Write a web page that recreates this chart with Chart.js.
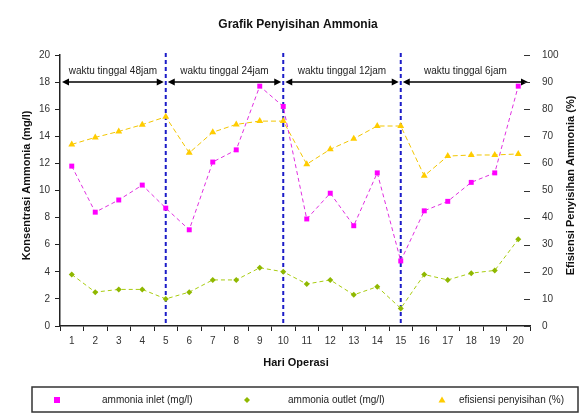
<!DOCTYPE html>
<html>
<head>
<meta charset="utf-8">
<script src="https://cdn.jsdelivr.net/npm/chart.js@4.4.1/dist/chart.umd.min.js"></script>
<style>
  html, body { margin: 0; padding: 0; background: #ffffff; }
  #wrap { width: 582px; height: 420px; position: relative; }
</style>
</head>
<body>
<div id="wrap"><canvas id="c" width="582" height="420"></canvas></div>
<script>
// ---- data ----
const days = ['1','2','3','4','5','6','7','8','9','10','11','12','13','14','15','16','17','18','19','20'];
const ammoniaInlet  = [11.8, 8.4, 9.3, 10.4, 8.7, 7.1, 12.1, 13.0, 17.7, 16.2, 7.9, 9.8, 7.4, 11.3, 4.8, 8.5, 9.2, 10.6, 11.3, 17.7];
const ammoniaOutlet = [3.8, 2.5, 2.7, 2.7, 2.0, 2.5, 3.4, 3.4, 4.3, 4.0, 3.1, 3.4, 2.3, 2.9, 1.3, 3.8, 3.4, 3.9, 4.1, 6.4];
const efficiency    = [67.0, 69.6, 71.8, 74.3, 77.2, 63.9, 71.5, 74.4, 75.6, 75.6, 59.7, 65.2, 69.1, 73.8, 73.8, 55.4, 62.7, 63.1, 63.1, 63.5];
const seriesNames   = ['ammonia inlet (mg/l)', 'ammonia outlet (mg/l)', 'efisiensi penyisihan (%)'];
const phaseLabels   = ['waktu tinggal 48jam', 'waktu tinggal 24jam', 'waktu tinggal 12jam', 'waktu tinggal 6jam'];
const phaseBounds   = ['5', '10', '15'];
const arrowLevel    = 18;
const leftTicks     = { min: 0, max: 20, step: 2 };
const rightTicks    = { min: 0, max: 100, step: 10 };

const titleText = 'Grafik Penyisihan Ammonia';
const xTitle = 'Hari Operasi';
const yTitle = 'Konsentrasi Ammonia (mg/l)';
const y1Title = 'Efisiensi Penyisihan Ammonia (%)';

const FONT = '"Liberation Sans", Arial, sans-serif';
const C_MAG = '#ff00ff', C_MAG_L = '#e030e0';
const C_GRN = '#8fb800', C_GRN_L = '#a8cc10';
const C_YEL = '#ffcc00', C_YEL_L = '#f2c600';

function drawMarker(ctx, type, x, y, color) {
  ctx.save();
  ctx.fillStyle = color;
  ctx.beginPath();
  if (type === 'rect') {
    ctx.rect(x - 3, y - 3, 6, 6);
  } else if (type === 'diamond') {
    ctx.moveTo(x, y - 3); ctx.lineTo(x + 3, y); ctx.lineTo(x, y + 3); ctx.lineTo(x - 3, y); ctx.closePath();
  } else {
    ctx.moveTo(x, y - 3.5); ctx.lineTo(x + 3.5, y + 2.5); ctx.lineTo(x - 3.5, y + 2.5); ctx.closePath();
  }
  ctx.fill();
  ctx.restore();
}

function drawArrowHead(ctx, x, y, dir) {
  ctx.beginPath();
  ctx.moveTo(x, y);
  ctx.lineTo(x - dir * 7, y - 3.5);
  ctx.lineTo(x - dir * 7, y + 3.5);
  ctx.closePath();
  ctx.fill();
}

const overlay = {
  id: 'overlay',
  beforeDatasetsDraw(chart) {
    const { ctx, chartArea: a, scales } = chart;
    const xs = scales.x, ys = scales.y;
    const bx = phaseBounds.map(b => xs.getPixelForValue(days.indexOf(b)));
    // vertical dashed blue lines
    ctx.save();
    ctx.strokeStyle = '#1c1cc8';
    ctx.lineWidth = 2;
    ctx.setLineDash([4, 3]);
    bx.forEach(x => {
      ctx.beginPath(); ctx.moveTo(x, a.top - 2); ctx.lineTo(x, a.bottom); ctx.stroke();
    });
    ctx.restore();
    // arrows
    const edges = [a.left, ...bx, a.right];
    const ay = ys.getPixelForValue(arrowLevel);
    ctx.save();
    ctx.strokeStyle = '#000'; ctx.fillStyle = '#000'; ctx.lineWidth = 1.5;
    for (let i = 0; i < edges.length - 1; i++) {
      const x0 = edges[i] + 2, x1 = edges[i + 1] - 2;
      ctx.beginPath(); ctx.moveTo(x0 + 4, ay); ctx.lineTo(x1 - 4, ay); ctx.stroke();
      drawArrowHead(ctx, x0, ay, -1);
      drawArrowHead(ctx, x1, ay, 1);
      ctx.font = '10px ' + FONT;
      ctx.fillStyle = '#222';
      ctx.textAlign = 'center'; ctx.textBaseline = 'middle';
      ctx.fillText(phaseLabels[i], (edges[i] + edges[i + 1]) / 2, ay - 11);
      ctx.fillStyle = '#000';
    }
    ctx.restore();
  },
  afterDraw(chart) {
    const { ctx, chartArea: a, scales } = chart;
    ctx.save();
    // title
    ctx.fillStyle = '#111';
    ctx.font = 'bold 12px ' + FONT;
    ctx.textAlign = 'center'; ctx.textBaseline = 'middle';
    ctx.fillText(titleText, (a.left + a.right) / 2 + 3, 25);
    // x title
    ctx.font = 'bold 11px ' + FONT;
    ctx.fillText(xTitle, (a.left + a.right) / 2 + 1, 363);
    // y titles
    const ym = (a.top + a.bottom) / 2;
    ctx.save(); ctx.translate(27, ym - 5); ctx.rotate(-Math.PI / 2);
    ctx.fillText(yTitle, 0, 0); ctx.restore();
    ctx.save(); ctx.translate(571, ym - 5); ctx.rotate(-Math.PI / 2);
    ctx.fillText(y1Title, 0, 0); ctx.restore();
    // right axis inner ticks
    const y1 = scales.y1;
    ctx.strokeStyle = '#333'; ctx.lineWidth = 1;
    y1.ticks.forEach(t => {
      const py = Math.round(y1.getPixelForValue(t.value)) + 0.5;
      ctx.beginPath(); ctx.moveTo(a.right - 6, py); ctx.lineTo(a.right, py); ctx.stroke();
    });
    // legend
    ctx.strokeStyle = '#333'; ctx.lineWidth = 1.5;
    ctx.strokeRect(32, 387, 546, 25);
    const ly = 400;
    const mk = [['rect', C_MAG, 57, 102], ['diamond', C_GRN, 247, 288], ['tri', C_YEL, 442, 459]];
    ctx.font = '10px ' + FONT;
    ctx.textAlign = 'left'; ctx.fillStyle = '#222';
    mk.forEach((m, i) => {
      drawMarker(ctx, m[0], m[2], ly, m[1]);
      ctx.fillStyle = '#222';
      ctx.fillText(chart.data.datasets[i].label, m[3], ly);
    });
    ctx.restore();
  }
};

const tickFont = { family: FONT, size: 10 };

new Chart(document.getElementById('c'), {
  type: 'line',
  data: {
    labels: days,
    datasets: [
      { label: seriesNames[0], data: ammoniaInlet, yAxisID: 'y',
        borderColor: C_MAG_L, backgroundColor: C_MAG, borderWidth: 1, borderDash: [4, 3],
        pointStyle: 'rect', pointRadius: 3.5, pointBackgroundColor: C_MAG, pointBorderColor: C_MAG, pointBorderWidth: 0,
        tension: 0, fill: false },
      { label: seriesNames[1], data: ammoniaOutlet, yAxisID: 'y',
        borderColor: C_GRN_L, backgroundColor: C_GRN, borderWidth: 1, borderDash: [4, 3],
        pointStyle: 'rectRot', pointRadius: 3, pointBackgroundColor: C_GRN, pointBorderColor: C_GRN, pointBorderWidth: 0,
        tension: 0, fill: false },
      { label: seriesNames[2], data: efficiency, yAxisID: 'y1',
        borderColor: C_YEL_L, backgroundColor: C_YEL, borderWidth: 1, borderDash: [5, 3],
        pointStyle: 'triangle', pointRadius: 4, pointBackgroundColor: C_YEL, pointBorderColor: C_YEL, pointBorderWidth: 0,
        tension: 0, fill: false }
    ]
  },
  options: {
    responsive: false,
    animation: false,
    devicePixelRatio: 1,
    layout: { padding: { top: 55, bottom: 64, left: 0, right: 0 } },
    plugins: { legend: { display: false }, title: { display: false }, tooltip: { enabled: false } },
    scales: {
      x: {
        type: 'category',
        offset: true,
        grid: { offset: true, drawOnChartArea: false, drawTicks: true, tickLength: 5, color: '#222' },
        border: { display: true, color: '#222', width: 1.5 },
        ticks: { font: tickFont, color: '#333', padding: 4, maxRotation: 0, autoSkip: false },
        afterFit(s) { s.height = 30; }
      },
      y: {
        position: 'left',
        min: leftTicks.min, max: leftTicks.max,
        grid: { drawOnChartArea: false, drawTicks: true, tickLength: 5, color: '#222' },
        border: { display: true, color: '#222', width: 1.5 },
        ticks: { stepSize: leftTicks.step, font: tickFont, color: '#333', padding: 5 },
        afterFit(s) { s.width = 60; }
      },
      y1: {
        position: 'right',
        min: rightTicks.min, max: rightTicks.max,
        grid: { display: false, drawOnChartArea: false, drawTicks: false },
        border: { display: false },
        ticks: { stepSize: rightTicks.step, font: tickFont, color: '#333', padding: 12 },
        afterFit(s) { s.width = 52; }
      }
    }
  },
  plugins: [overlay]
});
</script>
</body>
</html>
